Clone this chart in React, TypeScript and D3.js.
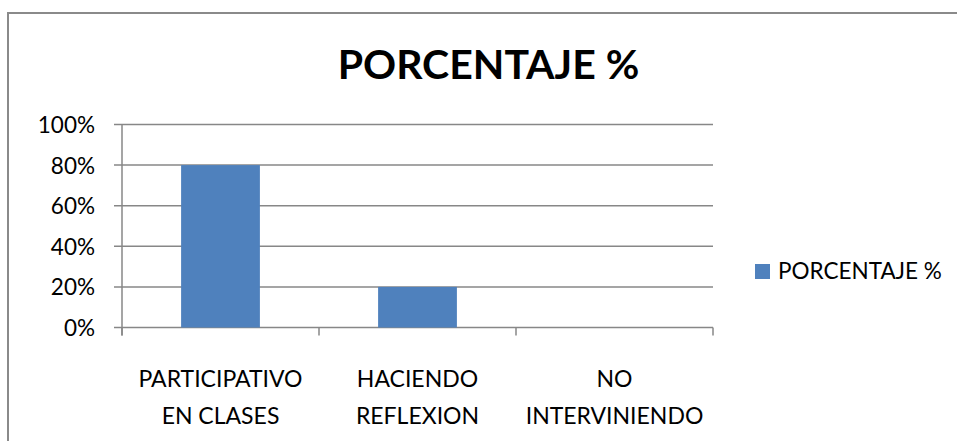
import * as d3 from "d3";

const categories = [["PARTICIPATIVO", "EN CLASES"], ["HACIENDO", "REFLEXION"], ["NO", "INTERVINIENDO"]];
const values = [0.8, 0.2, 0];
const yTicks = [0, 0.2, 0.4, 0.6, 0.8, 1];
const seriesName = "PORCENTAJE %";
const title = "PORCENTAJE %";

const W = 957;
const H = 441;
const left = 122, right = 713, top = 124.5, bottom = 327.5;
const font = "Lato, 'Open Sans', sans-serif";
const gridColor = "#878787";
const barColor = "#4F81BD";

export default function App() {
  const x = d3.scaleBand<number>()
    .domain(d3.range(categories.length))
    .range([left, right])
    .paddingInner(0.6)
    .paddingOuter(0.3);
  const step = (right - left) / categories.length;
  const y = d3.scaleLinear().domain([0, 1]).range([bottom, top]);
  const fmt = d3.format(".0%");

  return (
    <svg width={W} height={H} style={{ position: "absolute", left: 0, top: 0 }}>
      <rect x={0} y={0} width={W} height={H} fill="#fff" />
      <rect x={8} y={13} width={W + 10} height={H + 10} fill="none" stroke="#8a8a8a" strokeWidth={2} />
      <text x={488.5} y={79} textAnchor="middle" fontFamily={font} fontWeight="bold" fontSize={41} fill="#000">
        {title}
      </text>
      {yTicks.map((t) => (
        <g key={t}>
          <line x1={114} x2={right} y1={y(t)} y2={y(t)} stroke={gridColor} strokeWidth={1.5} />
          <text x={95} y={y(t) + 8.5} textAnchor="end" fontFamily={font} fontSize={22.5} fill="#000">
            {fmt(t)}
          </text>
        </g>
      ))}
      {values.map((v, i) => (
        <rect key={i} x={x(i)} y={y(v)} width={x.bandwidth()} height={y(0) - y(v)} fill={barColor} />
      ))}
      <line x1={left} x2={left} y1={top} y2={bottom + 8} stroke={gridColor} strokeWidth={1.5} />
      {d3.range(categories.length + 1).map((i) => (
        <line key={i} x1={left + i * step} x2={left + i * step} y1={bottom} y2={bottom + 8} stroke={gridColor} strokeWidth={1.5} />
      ))}
      {categories.map((lines, i) => (
        <text key={i} textAnchor="middle" fontFamily={font} fontSize={23} fill="#000">
          {lines.map((l, j) => (
            <tspan key={j} x={left + (i + 0.5) * step} y={387 + j * 37}>{l}</tspan>
          ))}
        </text>
      ))}
      <rect x={755} y={264} width={15} height={15} fill={barColor} />
      <text x={778} y={279} fontFamily={font} fontSize={22.5} fill="#000">{seriesName}</text>
    </svg>
  );
}
